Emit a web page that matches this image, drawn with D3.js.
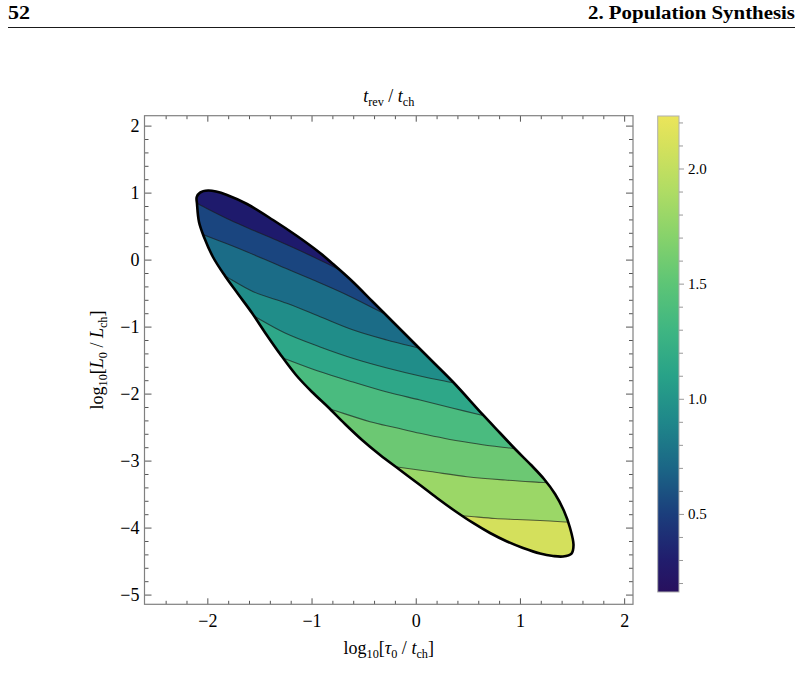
<!DOCTYPE html>
<html>
<head>
<meta charset="utf-8">
<script src="https://cdn.jsdelivr.net/npm/d3@7"></script>
<style>
  body { margin: 0; background: #fff; }
  svg { display: block; }
  text { font-family: "Liberation Serif", "Times New Roman", serif; fill: #000; }
</style>
</head>
<body>
<div id="chart"></div>
<script>
// outline of the region, [log10(tau0/tch), log10(L0/Lch)], clockwise from the left tip
const boundary = [
  [-2.102, 0.934], [-2.070, 1.001], [-1.993, 1.031], [-1.916, 1.016], [-1.811, 0.964],
  [-1.619, 0.830], [-1.369, 0.591], [-1.139, 0.352], [-0.918, 0.099], [-0.794, -0.066],
  [-0.602, -0.334], [-0.410, -0.633], [-0.218, -0.931], [-0.026, -1.230], [0.166, -1.528],
  [0.358, -1.827], [0.646, -2.319], [0.809, -2.588], [0.963, -2.842], [1.107, -3.066],
  [1.231, -3.275], [1.337, -3.499], [1.423, -3.752], [1.481, -4.006], [1.514, -4.260],
  [1.495, -4.387], [1.414, -4.431], [1.318, -4.424], [1.193, -4.387], [1.030, -4.304],
  [0.876, -4.207], [0.713, -4.081], [0.550, -3.931], [0.377, -3.752], [0.204, -3.558],
  [0.041, -3.364], [-0.151, -3.140], [-0.342, -2.917], [-0.515, -2.693], [-0.679, -2.454],
  [-0.842, -2.200], [-0.995, -1.976], [-1.149, -1.722], [-1.302, -1.409], [-1.437, -1.110],
  [-1.571, -0.797], [-1.705, -0.513], [-1.830, -0.245], [-1.946, 0.039], [-2.032, 0.337],
  [-2.080, 0.561], [-2.099, 0.830]
];

// contour levels of t_rev/t_ch and the lines
const contourLevels = [0.4, 0.6, 0.8, 1.0, 1.2, 1.4, 1.6, 1.8];
const contourLines = [
  [[-2.102, 0.840], [-1.782, 0.591], [-1.542, 0.427], [-1.302, 0.267], [-1.062, 0.099], [-0.791, -0.106]],
  [[-2.032, 0.367], [-1.830, 0.248], [-1.622, 0.118], [-1.302, -0.096], [-0.983, -0.304], [-0.679, -0.513], [-0.381, -0.745]],
  [[-1.846, -0.230], [-1.559, -0.479], [-1.238, -0.652], [-0.918, -0.852], [-0.599, -1.051], [-0.278, -1.200], [0.041, -1.324]],
  [[-1.571, -0.827], [-1.254, -1.096], [-0.918, -1.304], [-0.583, -1.484], [-0.276, -1.618], [0.041, -1.737], [0.368, -1.842]],
  [[-1.274, -1.469], [-0.938, -1.663], [-0.602, -1.827], [-0.276, -1.976], [0.041, -2.096], [0.348, -2.215], [0.665, -2.334]],
  [[-0.794, -2.245], [-0.439, -2.419], [-0.199, -2.506], [0.041, -2.593], [0.281, -2.670], [0.521, -2.733], [0.733, -2.782], [0.943, -2.819]],
  [[-0.179, -3.096], [0.137, -3.163], [0.492, -3.240], [0.857, -3.290], [1.222, -3.327]],
  [[0.531, -3.834], [0.761, -3.864], [0.972, -3.879], [1.193, -3.894], [1.433, -3.916]]
];
const bandColors = ["#1e1a6c", "#1a457f", "#1b6c87", "#208d89", "#2ea788", "#4abb7f", "#6cc873", "#9bd767", "#d4e05c"];

// colour bar
const cbDomain = [0.161, 2.228];
const cbStopValues = [0.161, 0.3, 0.5, 0.7, 0.9, 1.1, 1.3, 1.5, 1.7, 1.9, 2.1, 2.228];
const cbStopColors = ["#28105e", "#211d6d", "#1b3e7c", "#1b6686", "#1f878a", "#28a288", "#3fb682", "#5dc576", "#86d26b", "#afdc64", "#d5e15c", "#ebe55a"];
const cbTicks = [0.5, 1.0, 1.5, 2.0];

const xTicks = [-2, -1, 0, 1, 2];
const yTicks = [-5, -4, -3, -2, -1, 0, 1, 2];

const width = 802, height = 686;
const plot = { left: 144.5, right: 633, top: 115.7, bottom: 604.3 };

const x = d3.scaleLinear().domain([-2.603, 2.085]).range([plot.left, plot.right]);
const y = d3.scaleLinear().domain([-5.145, 2.148]).range([plot.bottom, plot.top]);

const svg = d3.select("#chart").append("svg")
  .attr("width", width)
  .attr("height", height)
  .attr("viewBox", `0 0 ${width} ${height}`);

// page header
svg.append("text").attr("x", 8).attr("y", 19)
  .attr("font-weight", "bold").attr("font-size", 18)
  .attr("textLength", 22).attr("lengthAdjust", "spacingAndGlyphs").text("52");
svg.append("text").attr("x", 588).attr("y", 19)
  .attr("font-weight", "bold").attr("font-size", 18)
  .attr("textLength", 207).attr("lengthAdjust", "spacingAndGlyphs").text("2. Population Synthesis");
svg.append("line").attr("x1", 8).attr("x2", 795).attr("y1", 27.5).attr("y2", 27.5)
  .attr("stroke", "#000").attr("stroke-width", 0.9);

// contour region
const outline = d3.line().x(d => x(d[0])).y(d => y(d[1])).curve(d3.curveCatmullRomClosed.alpha(0.5));
const smooth = d3.line().x(d => x(d[0])).y(d => y(d[1])).curve(d3.curveCatmullRom.alpha(0.5));

svg.append("clipPath").attr("id", "region")
  .append("path").attr("d", outline(boundary));

// push each line a little past the outline so the clip trims it cleanly
function extend(pts) {
  const ext = 0.15;
  const [a, b] = [pts[0], pts[1]];
  const [c, d] = [pts[pts.length - 2], pts[pts.length - 1]];
  const s0 = (b[1] - a[1]) / (b[0] - a[0]);
  const s1 = (d[1] - c[1]) / (d[0] - c[0]);
  return [[a[0] - ext, a[1] - s0 * ext], ...pts, [d[0] + ext, d[1] + s1 * ext]];
}

const g = svg.append("g").attr("clip-path", "url(#region)");
g.append("path").attr("d", outline(boundary)).attr("fill", bandColors[0]);

contourLines.forEach((pts, i) => {
  const e = extend(pts);
  const first = e[0], last = e[e.length - 1];
  const d = smooth(e) +
    `L${x(3)},${y(last[1])}L${x(3)},${y(-6)}L${x(-3)},${y(-6)}L${x(-3)},${y(first[1])}Z`;
  g.append("path").attr("d", d).attr("fill", bandColors[i + 1]);
});

g.selectAll("path.level")
  .data(contourLines)
  .join("path")
  .attr("class", "level")
  .attr("d", pts => smooth(extend(pts)))
  .attr("fill", "none")
  .attr("stroke", "#1a1a1a")
  .attr("stroke-opacity", 0.65)
  .attr("stroke-width", 1.1);

svg.append("path").attr("d", outline(boundary))
  .attr("fill", "none").attr("stroke", "#000")
  .attr("stroke-width", 2.6).attr("stroke-linejoin", "round");

// frame with inward ticks on all four sides
const xMinor = d3.range(-2.6, 2.01, 0.2).map(v => +v.toFixed(1)).filter(v => !xTicks.includes(v) && v > -2.6);
const yMinor = d3.range(-5.0, 2.11, 0.2).map(v => +v.toFixed(1)).filter(v => !yTicks.includes(v));
const tickColor = "#555";

function styleAxis(sel) {
  sel.select(".domain").remove();
  sel.selectAll(".tick line").attr("stroke", tickColor);
  sel.selectAll(".tick text").attr("font-size", 18).attr("font-family", "Liberation Serif");
}

svg.append("g").attr("transform", `translate(0,${plot.bottom})`)
  .call(d3.axisBottom(x).tickValues(xTicks).tickSize(-6).tickPadding(10).tickFormat(d3.format("d")))
  .call(styleAxis);
svg.append("g").attr("transform", `translate(0,${plot.bottom})`)
  .call(d3.axisBottom(x).tickValues(xMinor).tickSize(-3.5).tickFormat(""))
  .call(styleAxis);
svg.append("g").attr("transform", `translate(0,${plot.top})`)
  .call(d3.axisTop(x).tickValues(xTicks).tickSize(-6).tickFormat(""))
  .call(styleAxis);
svg.append("g").attr("transform", `translate(0,${plot.top})`)
  .call(d3.axisTop(x).tickValues(xMinor).tickSize(-3.5).tickFormat(""))
  .call(styleAxis);

svg.append("g").attr("transform", `translate(${plot.left},0)`)
  .call(d3.axisLeft(y).tickValues(yTicks).tickSize(-7).tickPadding(5).tickFormat(d3.format("d")))
  .call(styleAxis);
svg.append("g").attr("transform", `translate(${plot.left},0)`)
  .call(d3.axisLeft(y).tickValues(yMinor).tickSize(-4).tickFormat(""))
  .call(styleAxis);
svg.append("g").attr("transform", `translate(${plot.right},0)`)
  .call(d3.axisRight(y).tickValues(yTicks).tickSize(-7).tickFormat(""))
  .call(styleAxis);
svg.append("g").attr("transform", `translate(${plot.right},0)`)
  .call(d3.axisRight(y).tickValues(yMinor).tickSize(-4).tickFormat(""))
  .call(styleAxis);

svg.append("rect")
  .attr("x", plot.left).attr("y", plot.top)
  .attr("width", plot.right - plot.left).attr("height", plot.bottom - plot.top)
  .attr("fill", "none").attr("stroke", "#808080").attr("stroke-width", 1.2);

// labels with sub-scripts
function mathText(sel, parts, size) {
  parts.forEach((p, i) => {
    const t = sel.append("tspan").text(p.t);
    if (p.it) t.attr("font-style", "italic");
    if (p.sub) t.attr("font-size", size * 0.68).attr("dy", size * 0.22);
    else if (i > 0 && parts[i - 1].sub) t.attr("dy", -size * 0.22);
  });
}

const title = svg.append("text")
  .attr("x", (plot.left + plot.right) / 2).attr("y", 102)
  .attr("text-anchor", "middle").attr("font-size", 18);
mathText(title, [{ t: "t", it: true }, { t: "rev", sub: true }, { t: " / " }, { t: "t", it: true }, { t: "ch", sub: true }], 18);

const xLabel = svg.append("text")
  .attr("x", (plot.left + plot.right) / 2).attr("y", 654)
  .attr("text-anchor", "middle").attr("font-size", 18);
mathText(xLabel, [{ t: "log" }, { t: "10", sub: true }, { t: "[" }, { t: "τ", it: true }, { t: "0", sub: true },
  { t: " / " }, { t: "t", it: true }, { t: "ch", sub: true }, { t: "]" }], 18);

const yLabel = svg.append("text")
  .attr("transform", `translate(103,${(plot.top + plot.bottom) / 2}) rotate(-90)`)
  .attr("text-anchor", "middle").attr("font-size", 18);
mathText(yLabel, [{ t: "log" }, { t: "10", sub: true }, { t: "[" }, { t: "L", it: true }, { t: "0", sub: true },
  { t: " / " }, { t: "L", it: true }, { t: "ch", sub: true }, { t: "]" }], 18);

// colour bar
const cb = { left: 657.7, right: 679, top: 116, bottom: 592 };
const cbScale = d3.scaleLinear().domain(cbDomain).range([cb.bottom, cb.top]);

const grad = svg.append("defs").append("linearGradient")
  .attr("id", "cbgrad").attr("x1", 0).attr("y1", 1).attr("x2", 0).attr("y2", 0);
grad.selectAll("stop")
  .data(cbStopValues)
  .join("stop")
  .attr("offset", v => (v - cbDomain[0]) / (cbDomain[1] - cbDomain[0]))
  .attr("stop-color", (v, i) => cbStopColors[i]);

svg.append("rect")
  .attr("x", cb.left).attr("y", cb.top)
  .attr("width", cb.right - cb.left).attr("height", cb.bottom - cb.top)
  .attr("fill", "url(#cbgrad)").attr("stroke", "#b0b0b0").attr("stroke-width", 1);

const cbMinor = d3.range(0.2, 2.21, 0.1).map(v => +v.toFixed(1)).filter(v => !cbTicks.includes(v));
svg.append("g").attr("transform", `translate(${cb.right},0)`)
  .call(d3.axisRight(cbScale).tickValues(cbMinor).tickSize(4).tickFormat(""))
  .call(s => { s.select(".domain").remove(); s.selectAll(".tick line").attr("stroke", "#999"); });
svg.append("g").attr("transform", `translate(${cb.right},0)`)
  .call(d3.axisRight(cbScale).tickValues(cbTicks).tickSize(5).tickPadding(4).tickFormat(d3.format(".1f")))
  .call(s => {
    s.select(".domain").remove();
    s.selectAll(".tick line").attr("stroke", "#999");
    s.selectAll(".tick text").attr("font-size", 15).attr("font-family", "Liberation Serif");
  });
</script>
</body>
</html>
